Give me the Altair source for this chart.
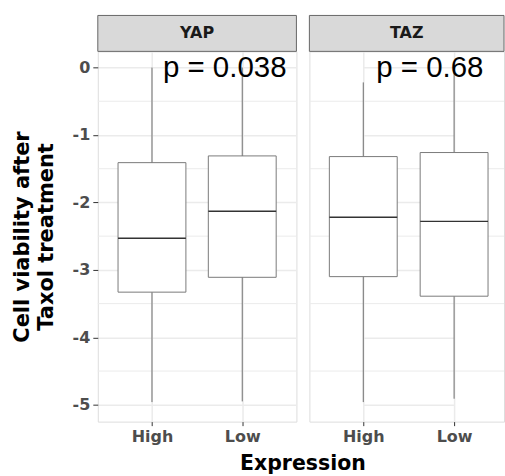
import altair as alt
import pandas as pd

# ---- data ----
genes = ["YAP", "YAP", "TAZ", "TAZ"]
expression = ["High", "Low", "High", "Low"]
whisker_low = [-4.96, -4.95, -4.96, -4.91]
q1 = [-3.33, -3.11, -3.10, -3.39]
median = [-2.53, -2.13, -2.22, -2.28]
q3 = [-1.41, -1.31, -1.32, -1.26]
whisker_high = [0.0, 0.0, -0.22, 0.0]

panel_genes = ["YAP", "TAZ"]
p_labels = ["p = 0.038", "p = 0.68"]

y_major = [-5, -4, -3, -2, -1, 0]
y_minor = [-4.5, -3.5, -2.5, -1.5, -0.5]

box_df = pd.DataFrame({
    "gene": genes, "expression": expression, "low": whisker_low,
    "q1": q1, "median": median, "q3": q3, "high": whisker_high,
})
minor_df = pd.DataFrame({"v": y_minor})

H = 371
STRIP = 36
LABEL_FONT = "DejaVu Sans"
GRID = "#ebebeb"
BORDER = "#666666"

yscale = alt.Scale(domain=[-5.25, 0.24], nice=False, zero=False)


def panel(i, width, xrange=None, first=True, pdx=12):
    gene = panel_genes[i]
    data = box_df[box_df["gene"] == gene]
    if xrange is None:
        xs = alt.Scale(type="point", padding=0.6, domain=["High", "Low"])
    else:
        xs = alt.Scale(type="point", padding=0, domain=["High", "Low"], range=xrange)

    if first:
        yaxis = alt.Axis(values=y_major, title=["Cell viability after", "Taxol treatment"],
                         titleFont=LABEL_FONT, titleFontWeight="bold", titleFontSize=21,
                         titleColor="black", titlePadding=16, titleLineHeight=24,
                         labelFont=LABEL_FONT, labelFontWeight="bold", labelFontSize=16,
                         labelColor="#4d4d4d", labelPadding=3, tickSize=5, tickColor="#333333",
                         domain=False, grid=True, gridColor=GRID, gridWidth=1.5,
                         labelExpr="'' + datum.value")
        xaxis = alt.Axis(title="Expression", titleFont=LABEL_FONT, titleFontWeight="bold",
                         titleFontSize=20.5, titleColor="black", titleX=205, titleAlign="center",
                         titlePadding=9,
                         labelFont=LABEL_FONT, labelFontWeight="bold", labelFontSize=16,
                         labelColor="#4d4d4d", labelPadding=3, tickSize=4, tickColor="#333333",
                         domain=False, grid=True, gridColor=GRID, gridWidth=1.5, labelAngle=0)
    else:
        yaxis = alt.Axis(values=y_major, title=None, labels=False, ticks=False,
                         domain=False, grid=True, gridColor=GRID, gridWidth=1.5)
        xaxis = alt.Axis(title=None, labelFont=LABEL_FONT, labelFontWeight="bold",
                         labelFontSize=16, labelColor="#4d4d4d", labelPadding=3, tickSize=4,
                         tickColor="#333333", domain=False, grid=True, gridColor=GRID,
                         gridWidth=1.5, labelAngle=0)

    X = alt.X("expression:N", scale=xs, axis=xaxis, sort=["High", "Low"])

    minor = alt.Chart(minor_df).mark_rule(color=GRID, strokeWidth=1).encode(
        y=alt.Y("v:Q", scale=yscale, axis=yaxis)
    )
    base = alt.Chart(data)
    whisk = base.mark_rule(color="#6e6e6e", strokeWidth=1).encode(
        x=X, y=alt.Y("low:Q", scale=yscale, axis=yaxis), y2="high:Q"
    )
    box = base.mark_bar(size=68, fill="white", stroke="#7a7a7a", strokeWidth=1).encode(
        x=X, y=alt.Y("q1:Q", scale=yscale, axis=yaxis), y2="q3:Q"
    )
    med = base.mark_tick(size=68, thickness=1.4, color="#333333", opacity=1).encode(
        x=X, y=alt.Y("median:Q", scale=yscale, axis=yaxis)
    )
    lab_df = pd.DataFrame({"label": [p_labels[i]], "gene": [gene], "expression": ["High"]})
    ptext = alt.Chart(lab_df).mark_text(
        align="left", baseline="middle", dx=pdx, fontSize=29.5,
        font="Liberation Sans", color="black"
    ).encode(x=X, y=alt.datum(0), text="label:N")

    strip_rect = alt.Chart(lab_df).mark_rect(fill="#d9d9d9", stroke=BORDER, strokeWidth=1).encode(
        x=alt.value(0), x2=alt.value(width), y=alt.value(-STRIP), y2=alt.value(0)
    )
    strip_text = alt.Chart(lab_df).mark_text(
        font=LABEL_FONT, fontWeight="bold", fontSize=16, color="#1a1a1a", baseline="middle"
    ).encode(x=alt.value(width / 2), y=alt.value(-STRIP / 2), text="gene:N")

    return alt.layer(minor, whisk, box, med, ptext, strip_rect, strip_text).properties(
        width=width, height=H
    )


chart = alt.hconcat(
    panel(0, 199, first=True, pdx=11),
    panel(1, 195, xrange=[54, 145], first=False, pdx=13),
    spacing=13, bounds="flush",
).properties(
    padding={"left": 10, "top": 14, "right": 0, "bottom": 2}
).configure_view(
    stroke=BORDER, strokeWidth=1, fill="white"
).configure(background="white")

chart.save("out.html", embed_options={"renderer": "svg", "actions": False})
